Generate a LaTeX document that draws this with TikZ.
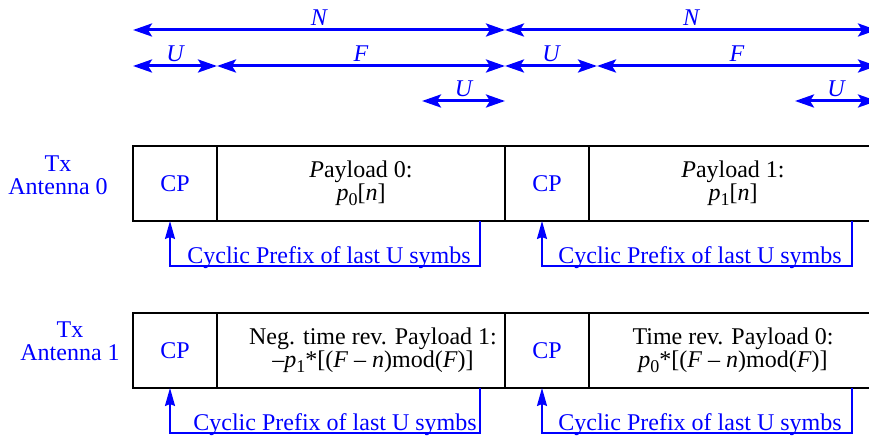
\documentclass[tikz,border=0pt]{standalone}
\usepackage{fontspec}
\setmainfont{Liberation Serif}
\usetikzlibrary{arrows.meta,positioning,calc}
\newcommand{\sbs}[1]{\raisebox{-2.5pt}{\fontsize{9}{9}\selectfont #1}}

\begin{document}
\begin{tikzpicture}[
    x=0.5pt, y=0.5pt,
    font=\fontsize{12}{11.5}\selectfont,
    cell/.style={rectangle, draw, line width=1.1pt, outer sep=0pt, inner sep=0pt, minimum height=37.5pt, align=center},
    cpcell/.style={cell, minimum width=42pt, text=blue},
    paycell/.style={cell, minimum width=144pt},
    dimarrow/.style={{Stealth[length=9.5pt,width=6.5pt,inset=2pt]}-{Stealth[length=9.5pt,width=6.5pt,inset=2pt]}, line width=1.5pt, blue},
    dimlabel/.style={midway, above, inner sep=1.5pt, text=blue, font=\fontsize{12}{12}\selectfont\itshape},
    cparrow/.style={-{Stealth[length=9pt,width=5pt,inset=1pt]}, line width=0.9pt, blue},
    antlabel/.style={text=blue, align=center},
]
\useasboundingbox (0,0) rectangle (869,-438);
\clip (0,0) rectangle (869,-438);

% Antenna 0
\node[cpcell] (cp0a) at (175,-183.5) {CP};
\node[paycell, right=0pt of cp0a] (pl0a) {\textit{P}ayload 0:\\\textit{p}\sbs{0}[\textit{n}]};
\node[cpcell, right=0pt of pl0a] (cp1a) {CP};
\node[paycell, right=0pt of cp1a] (pl1a) {\textit{P}ayload 1:\\\textit{p}\sbs{1}[\textit{n}]};

% Antenna 1
\node[cpcell, below=46pt of cp0a] (cp0b) {CP};
\node[paycell, right=0pt of cp0b] (pl0b) {};
\node[align=center] at ([xshift=6pt]pl0b.center) (txt0b) {Neg. time rev. Payload 1:\\–\textit{p}\sbs{1}*[(\textit{F} – \textit{n})mod(\textit{F})]};
\node[cpcell, right=0pt of pl0b] (cp1b) {CP};
\node[paycell, right=0pt of cp1b] (pl1b) {Time rev. Payload 0:\\\textit{p}\sbs{0}*[(\textit{F} – \textit{n})mod(\textit{F})]};

\node[antlabel] (ant0) at (58,-175) {Tx\\Antenna 0};
\node[antlabel] (ant1) at (70,-341) {Tx\\Antenna 1};

% Dimension arrows
\coordinate (nrow) at (0,-30);
\coordinate (frow) at (0,-66);
\coordinate (urow) at (0,-101);

\draw[dimarrow] (cp0a.west |- nrow) -- node[dimlabel] {N} (pl0a.east |- nrow);
\draw[dimarrow] (cp1a.west |- nrow) -- node[dimlabel] {N} (pl1a.east |- nrow);

\draw[dimarrow] (cp0a.west |- frow) -- node[dimlabel] {U} (cp0a.east |- frow);
\draw[dimarrow] (pl0a.west |- frow) -- node[dimlabel] {F} (pl0a.east |- frow);
\draw[dimarrow] (cp1a.west |- frow) -- node[dimlabel] {U} ($(cp1a.east |- frow)+(8,0)$);
\draw[dimarrow] ($(pl1a.west |- frow)+(8,0)$) -- node[dimlabel] {F} (pl1a.east |- frow);

\draw[dimarrow] ($(pl0a.east |- urow)+(-83,0)$) -- node[dimlabel] {U} (pl0a.east |- urow);
\draw[dimarrow] ($(pl1a.east |- urow)+(-82,0)$) -- node[dimlabel] {U} (pl1a.east |- urow);

% Cyclic prefix arrows
\foreach \c/\p/\d in {cp0a/pl0a/17, cp1a/pl1a/16, cp0b/pl0b/23, cp1b/pl1b/16} {
  \draw[cparrow] ($(\p.south east)+(-25,0)$) -- ++(0,-45) coordinate (cyc\c) -| ($(\c.south)+(-5,0)$);
  \node[text=blue, anchor=base west, inner sep=0pt] (cyctxt\c) at ($(cyc\c -| \c.south)+(\d-5,2)$) {Cyclic Prefix of last U symbs};
}

\end{tikzpicture}
\end{document}
